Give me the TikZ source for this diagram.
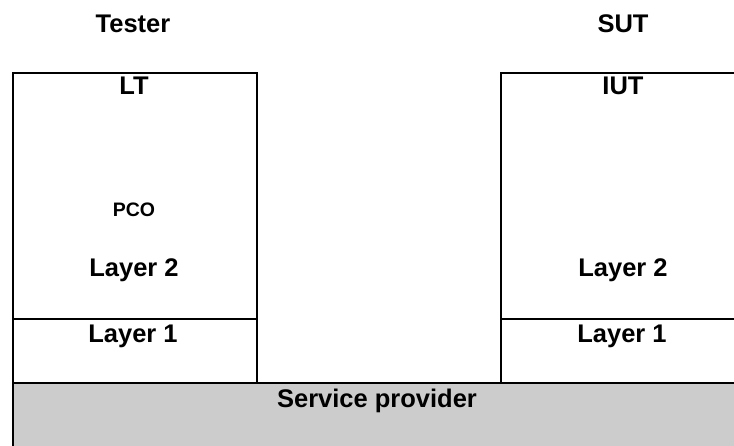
\documentclass[tikz,border=0pt]{standalone}
\usepackage{fontspec}
\setmainfont{Liberation Sans}
\usetikzlibrary{positioning}
\definecolor{providergray}{HTML}{CCCCCC}
\tikzset{
    cell/.style={ % Sets the properties for each table cell
    draw, line width=1.6pt, inner sep=0pt, anchor=north west},
    lbl/.style={font=\fontsize{25.5}{30}\selectfont\bfseries, anchor=base, inner sep=0pt},
    smalllbl/.style={lbl, font=\fontsize{19.5}{23}\selectfont\bfseries}}

\begin{document}
\begin{tikzpicture}[x=1pt, y=-1pt]
        \useasboundingbox (0,0) rectangle (734,446);
        \clip (0,0) rectangle (734,446);

        % Tester side
        \node[cell, minimum width=244pt, minimum height=246pt] (lt) at (12,72) {};
        \node[cell, minimum width=244pt, minimum height=64pt] (ltphy) at (12,318) {};

        % SUT side
        \node[cell, minimum width=245pt, minimum height=246pt] (iut) at (500,72) {};
        \node[cell, minimum width=245pt, minimum height=64pt] (iutphy) at (500,318) {};

        % Underlying service
        \node[cell, fill=providergray, minimum width=733pt, minimum height=90pt] (provider) at (12,382) {};

        % Labels
        \node[lbl] (tester) at (133,33) {Tester};
        \node[lbl] (sut) at (623,33) {SUT};
        \node[lbl] (ltname) at (134,95) {LT};
        \node[lbl] (iutname) at (623,95) {IUT};
        \node[smalllbl] (pco) at (134,217) {PCO};
        \node[lbl] (ltlayer2) at (134,277) {Layer 2};
        \node[lbl] (iutlayer2) at (623,277) {Layer 2};
        \node[lbl] (ltlayer1) at (133,343) {Layer 1};
        \node[lbl] (iutlayer1) at (622,343) {Layer 1};
        \node[lbl] (providername) at (377,407) {Service provider};

    \end{tikzpicture}
\end{document}
